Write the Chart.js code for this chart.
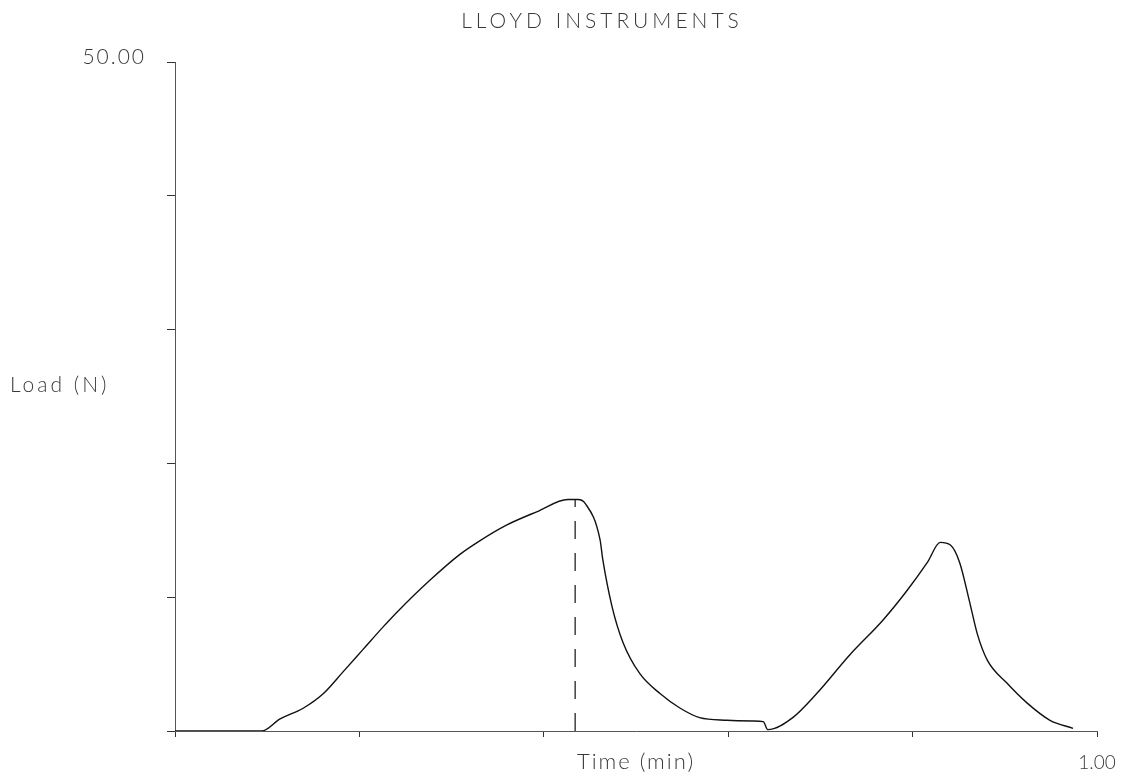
<!DOCTYPE html>
<html>
<head>
<meta charset="utf-8">
<script src="https://cdn.jsdelivr.net/npm/chart.js@4.4.1/dist/chart.umd.min.js"></script>
<style>
  html, body { margin: 0; padding: 0; background: #fff; }
  #wrap { width: 1139px; height: 782px; position: relative; }
</style>
</head>
<body>
<div id="wrap"><canvas id="c" width="1139" height="782"></canvas></div>
<script>
// Load–time trace from the tester (time in minutes, load in newtons)
const timeMin = [0, 0.094, 0.114, 0.139, 0.161, 0.182, 0.204, 0.226, 0.241, 0.277, 0.309, 0.328, 0.360, 0.393, 0.426, 0.437, 0.445, 0.461, 0.464, 0.474, 0.486, 0.504, 0.526, 0.548, 0.569, 0.599, 0.627, 0.638, 0.643, 0.670, 0.696, 0.732, 0.768, 0.794, 0.816, 0.830, 0.841, 0.851, 0.862, 0.870, 0.881, 0.902, 0.924, 0.949, 0.974];
const loadN   = [0, 0.0, 0.9, 1.7, 2.8, 4.4, 6.1, 7.8, 8.9, 11.3, 13.2, 14.1, 15.4, 16.4, 17.3, 17.3, 17.0, 14.3, 12.8, 9.3, 6.6, 4.3, 2.8, 1.7, 1.0, 0.8, 0.75, 0.7, 0.1, 1.0, 2.8, 5.7, 8.3, 10.5, 12.6, 14.1, 13.9, 12.6, 9.6, 7.3, 5.3, 3.6, 2.1, 0.8, 0.2];

// Dropline marking the first peak
const peakTime = [0.434, 0.434];
const peakLoad = [0, 17.3];

// Axis ranges and the labels shown at the ends
const xRange = [0, 1];
const yRange = [0, 50];
const xEndLabel = '1.00';
const yEndLabel = '50.00';

const titleText = 'LLOYD INSTRUMENTS';
const yTitleText = 'Load (N)';
const xTitleText = 'Time (min)';

const FONT = 'Lato, "DejaVu Sans", sans-serif';
const INK = '#3a3a3a';

// Plotter-style captions placed around the plot frame
const labelsPlugin = {
  id: 'plotterLabels',
  afterDraw(chart) {
    const ctx = chart.ctx;
    const area = chart.chartArea;
    ctx.save();
    ctx.fillStyle = INK;
    ctx.textBaseline = 'middle';
    ctx.font = '300 21px ' + FONT;
    ctx.letterSpacing = '4px';
    ctx.textAlign = 'center';
    ctx.fillText(titleText, 602, 21);
    ctx.letterSpacing = '3px';
    ctx.textAlign = 'left';
    ctx.fillText(yTitleText, 10, 385);
    ctx.letterSpacing = '2px';
    ctx.textAlign = 'right';
    ctx.fillText(yEndLabel, area.left - 29, area.top - 5);
    ctx.font = '300 22px ' + FONT;
    ctx.letterSpacing = '2px';
    ctx.textAlign = 'center';
    ctx.fillText(xTitleText, (area.left + area.right) / 2, area.bottom + 31);
    ctx.restore();
  }
};

new Chart(document.getElementById('c'), {
  type: 'line',
  data: {
    datasets: [
      {
        data: timeMin.map((t, i) => ({ x: t, y: loadN[i] })),
        borderColor: '#111',
        borderWidth: 1.4,
        pointRadius: 0,
        cubicInterpolationMode: 'monotone',
        fill: false
      },
      {
        data: peakTime.map((t, i) => ({ x: t, y: peakLoad[i] })),
        borderColor: '#222',
        borderWidth: 1.3,
        borderDash: [18, 14],
        pointRadius: 0,
        fill: false
      }
    ]
  },
  options: {
    responsive: false,
    animation: false,
    devicePixelRatio: 1,
    layout: { padding: { left: 0, right: 42, top: 62, bottom: 0 } },
    plugins: {
      legend: { display: false },
      title: { display: false },
      tooltip: { enabled: false }
    },
    scales: {
      x: {
        type: 'linear',
        min: xRange[0],
        max: xRange[1],
        afterFit(scale) { scale.height = 51; },
        border: { display: true, color: '#555', width: 1 },
        grid: { display: true, drawOnChartArea: false, drawTicks: true, tickLength: 6, color: '#333', lineWidth: 1 },
        ticks: {
          stepSize: 0.2,
          color: INK,
          font: { family: FONT, size: 19, weight: 300 },
          padding: 14,
          maxRotation: 0,
          callback: (v) => (Math.abs(v - xRange[1]) < 1e-9 ? xEndLabel : '')
        }
      },
      y: {
        type: 'linear',
        min: yRange[0],
        max: yRange[1],
        afterFit(scale) { scale.width = 175; },
        border: { display: true, color: '#555', width: 1 },
        grid: { display: true, drawOnChartArea: false, drawTicks: true, tickLength: 8, color: '#333', lineWidth: 1 },
        ticks: {
          stepSize: 10,
          callback: () => ''
        }
      }
    }
  },
  plugins: [labelsPlugin]
});
</script>
</body>
</html>
